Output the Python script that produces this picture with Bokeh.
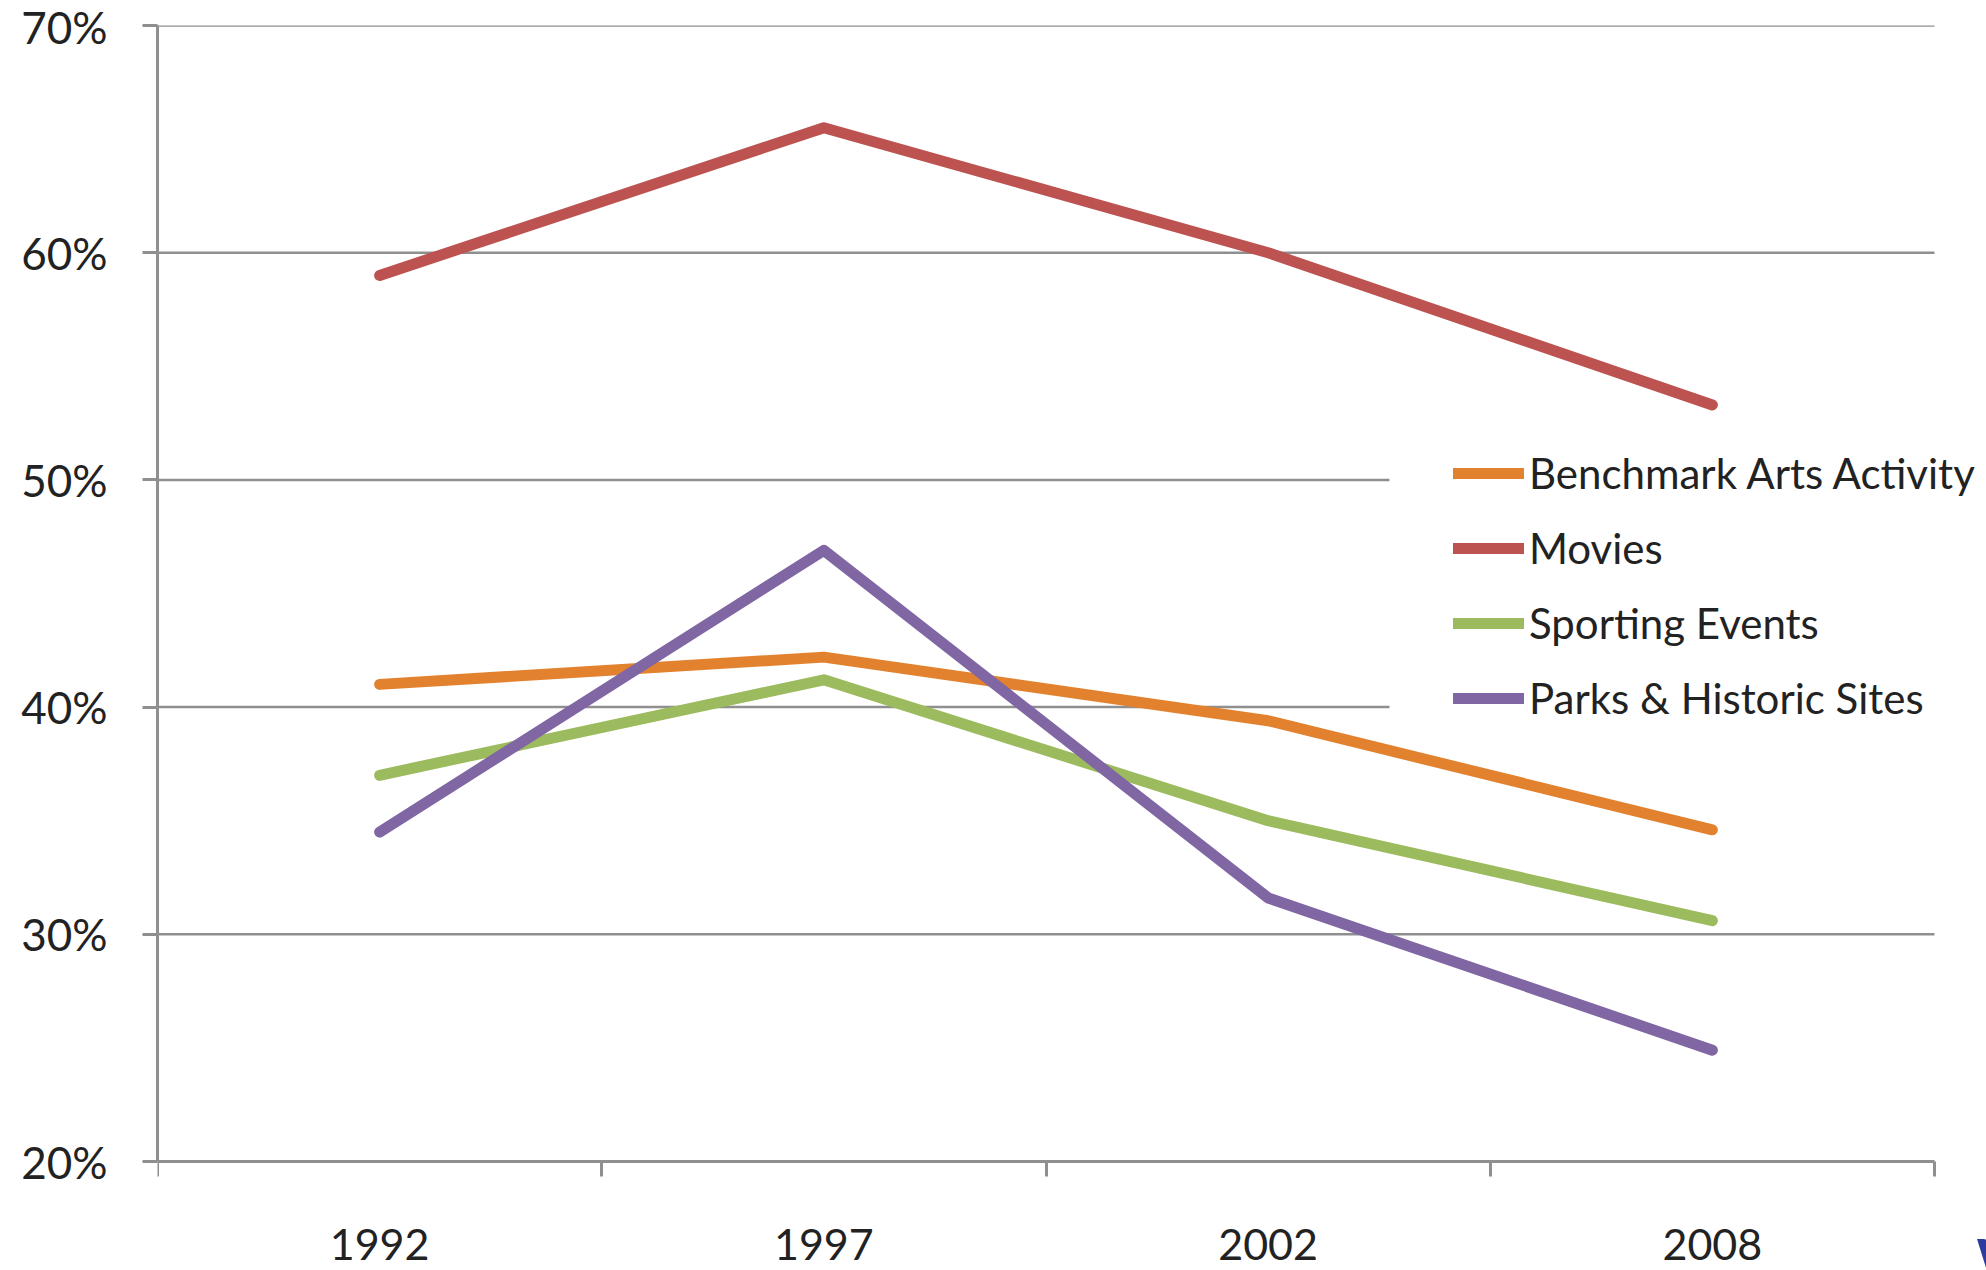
from bokeh.plotting import figure
from bokeh.models import (Range1d, FixedTicker, PrintfTickFormatter, Legend,
                          LegendItem, Label, BoxAnnotation)
from bokeh.embed import file_html
from bokeh.resources import INLINE

# Share of adults attending each activity at least once in the survey year
years = ["1992", "1997", "2002", "2008"]
benchmark_arts = [41.0, 42.2, 39.4, 34.6]
movies = [59.0, 65.5, 60.0, 53.3]
sporting_events = [37.0, 41.2, 35.0, 30.6]
parks_historic = [34.5, 46.9, 31.6, 24.9]

series_names = ["Benchmark Arts Activity", "Movies", "Sporting Events",
                "Parks & Historic Sites"]
series_values = [benchmark_arts, movies, sporting_events, parks_historic]
series_colors = ["#E2822E", "#BC5350", "#9CBB5E", "#8066A3"]

y_ticks = [20, 30, 40, 50, 60, 70]

FONT = "Lato"
GRID = "#8f8f8f"
TEXT = "#222222"

# categories sit at the centre of unit-wide slots; ticks mark slot edges
n = len(years)
x_centers = [i + 0.5 for i in range(n)]
x_edges = [float(i) for i in range(n + 1)]

# plotting area of the axes, and a frame that runs on past it to the right
# (room for the legend) and below (room for the axis labels)
AXIS_W, AXIS_H = 1777, 1136
FRAME_W, FRAME_H = 1829, 1266
y_lo, y_hi = y_ticks[0], y_ticks[-1]
x_end = n * FRAME_W / AXIS_W
y_start = y_hi - (y_hi - y_lo) * FRAME_H / AXIS_H
below = FRAME_H - AXIS_H  # frame pixels under the x axis line

p = figure(frame_width=FRAME_W, frame_height=FRAME_H,
           min_border_left=157, min_border_right=0,
           min_border_top=25, min_border_bottom=0,
           x_range=Range1d(0, x_end), y_range=Range1d(y_start, y_hi),
           output_backend="svg", toolbar_location=None,
           background_fill_color="white", border_fill_color="white")
p.outline_line_color = None

# x axis: labels at category centres, short ticks at the slot edges
xa = p.xaxis[0]
xa.fixed_location = y_lo
xa.bounds = (0, n)
xa.ticker = FixedTicker(ticks=x_centers, minor_ticks=x_edges)
xa.major_label_overrides = {c: y for c, y in zip(x_centers, years)}
xa.major_tick_out = 0
xa.major_tick_in = 0
xa.minor_tick_out = 15
xa.minor_tick_in = 0
xa.minor_tick_line_color = GRID
xa.minor_tick_line_width = 3
xa.axis_line_color = GRID
xa.axis_line_width = 3
xa.major_label_text_font = FONT
xa.major_label_text_font_size = "43px"
xa.major_label_text_color = TEXT
xa.major_label_standoff = 52

ya = p.yaxis[0]
ya.bounds = (y_lo, y_hi)
ya.ticker = FixedTicker(ticks=y_ticks)
ya.formatter = PrintfTickFormatter(format="%d%%")
ya.major_tick_out = 15
ya.major_tick_in = 0
ya.major_tick_line_color = GRID
ya.major_tick_line_width = 3
ya.minor_tick_line_color = None
ya.axis_line_color = GRID
ya.axis_line_width = 3
ya.major_label_text_font = FONT
ya.major_label_text_font_size = "44px"
ya.major_label_text_color = TEXT
ya.major_label_standoff = 35

# horizontal gridlines spanning the category slots only
p.xgrid.grid_line_color = None
p.ygrid.grid_line_color = None
grid_ys = y_ticks[1:]
p.segment(x0=[0] * len(grid_ys), x1=[n] * len(grid_ys), y0=grid_ys,
          y1=grid_ys, line_color=GRID, line_width=2.5, level="image")

# white panel behind the legend, hiding the gridlines it sits on
legend_panel = BoxAnnotation(left=1232, right=FRAME_W,
                             top=731 + below, bottom=416 + below,
                             left_units="screen", right_units="screen",
                             top_units="screen", bottom_units="screen",
                             fill_color="white", fill_alpha=1.0,
                             line_color=None, level="underlay")
p.add_layout(legend_panel)

items = []
for name, vals, color in zip(series_names, series_values, series_colors):
    r = p.line(x_centers, vals, line_color=color, line_width=11,
               line_cap="round", line_join="round")
    items.append(LegendItem(label=name, renderers=[r]))

legend = Legend(items=items, location=(1296, 438 + below),
                orientation="vertical",
                glyph_width=71, glyph_height=50, label_height=50,
                label_standoff=5, spacing=25, padding=0, margin=0,
                label_text_font=FONT, label_text_font_size="42px",
                label_text_color=TEXT,
                background_fill_color="white", background_fill_alpha=1.0,
                border_line_color=None)
p.add_layout(legend, "center")

mark = Label(x=1819, y=below - 97, x_units="screen", y_units="screen",
             text="W", text_font=FONT, text_font_style="bold",
             text_font_size="60px", text_color="#2E3A9E",
             text_align="left", text_baseline="alphabetic")
p.add_layout(mark)

open("out.html", "w").write(file_html(p, INLINE))
